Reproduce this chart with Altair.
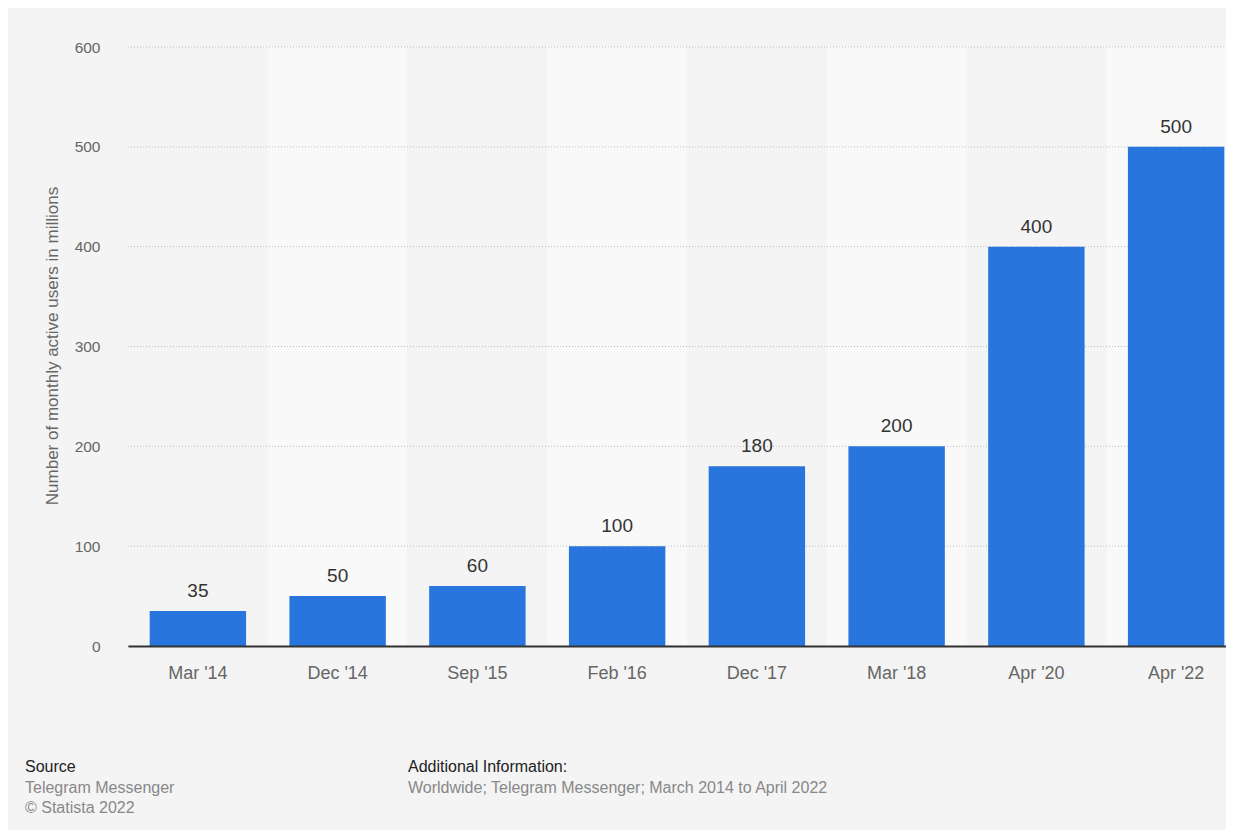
import altair as alt
import pandas as pd

# ---- data ----
CATEGORIES = ["Mar '14", "Dec '14", "Sep '15", "Feb '16", "Dec '17", "Mar '18", "Apr '20", "Apr '22"]
USERS = [35, 50, 60, 100, 180, 200, 400, 500]
Y_TICKS = [0, 100, 200, 300, 400, 500, 600]
Y_TITLE = "Number of monthly active users in millions"
SOURCE_LINES = ["Source", "Telegram Messenger", "\u00a9 Statista 2022"]
INFO_LINES = ["Additional Information:", "Worldwide; Telegram Messenger; March 2014 to April 2022"]

df = pd.DataFrame({
    "period": CATEGORIES,
    "users": USERS,
    "parity": [i % 2 for i in range(len(CATEGORIES))],
})
grid_df = pd.DataFrame({"users": Y_TICKS})

FONT = "Liberation Sans"
BG = "#f4f4f4"
BAND_LIGHT = "#f9f9f9"
BAR = "#2876dd"

W, H = 1118, 599

xscale = alt.Scale(paddingInner=0, paddingOuter=0)
yscale = alt.Scale(domain=[0, 600], nice=False, zero=True)

xaxis = alt.Axis(
    title=None, labelAngle=0, labelFontSize=18, labelColor="#666666", labelFont=FONT,
    labelPadding=18, ticks=False, domainColor="#333333", domainWidth=2, grid=False,
)
yaxis = alt.Axis(
    values=Y_TICKS, title=Y_TITLE, labelFontSize=15.5, labelColor="#666666", labelFont=FONT,
    labelPadding=28, ticks=False, domain=False, grid=False,
    titleFontSize=17, titleColor="#666666", titleFont=FONT,
    titleFontWeight="normal", titleX=-76, titleY=H / 2 - 1, titleAlign="center",
    titleBaseline="middle", titleAngle=-90,
)

X = alt.X("period:N", sort=CATEGORIES, scale=xscale, axis=xaxis)

base = alt.Chart(df)

bands = base.mark_rect().encode(
    x=X,
    y=alt.YDatum(600, scale=yscale, axis=yaxis),
    y2=alt.datum(0),
    color=alt.Color("parity:N", scale=alt.Scale(domain=[0, 1], range=[BG, BAND_LIGHT]), legend=None),
)

grid = alt.Chart(grid_df).mark_rule(color="#bdbdbd", strokeDash=[1, 2], strokeWidth=1).encode(
    y=alt.Y("users:Q", scale=yscale, axis=yaxis),
    x=alt.value(0),
    x2=alt.value(W),
)

bars = base.mark_bar(color=BAR, width=alt.RelativeBandSize(0.69)).encode(
    x=X,
    y=alt.Y("users:Q", scale=yscale, axis=yaxis),
)

labels = base.mark_text(
    dy=-14, baseline="alphabetic", fontSize=19, color="#333333", font=FONT
).encode(
    x=X,
    y=alt.Y("users:Q", scale=yscale, axis=yaxis),
    text=alt.Text("users:Q"),
)

one = alt.Data(values=[{}])

def foot(text, x, y, size, color):
    return alt.Chart(one).mark_text(
        text=text, align="left", baseline="middle", fontSize=size, color=color, font=FONT
    ).encode(x=alt.value(x), y=alt.value(y))

footer = [
    foot(SOURCE_LINES[0], -103, 720, 16, "#222222"),
    foot(SOURCE_LINES[1], -103, 741, 16, "#888888"),
    foot(SOURCE_LINES[2], -103, 761, 16, "#888888"),
    foot(INFO_LINES[0], 280, 720, 16, "#222222"),
    foot(INFO_LINES[1], 280, 741, 16, "#888888"),
]

chart = alt.layer(bands, grid, bars, labels, *footer).properties(
    width=W, height=H,
    autosize=alt.AutoSizeParams(type="none"),
    padding={"left": 120, "top": 39, "right": -20, "bottom": 184},
    background=BG,
).configure_view(stroke=None)

chart.save("out.html", embed_options={"renderer": "svg", "actions": False})
